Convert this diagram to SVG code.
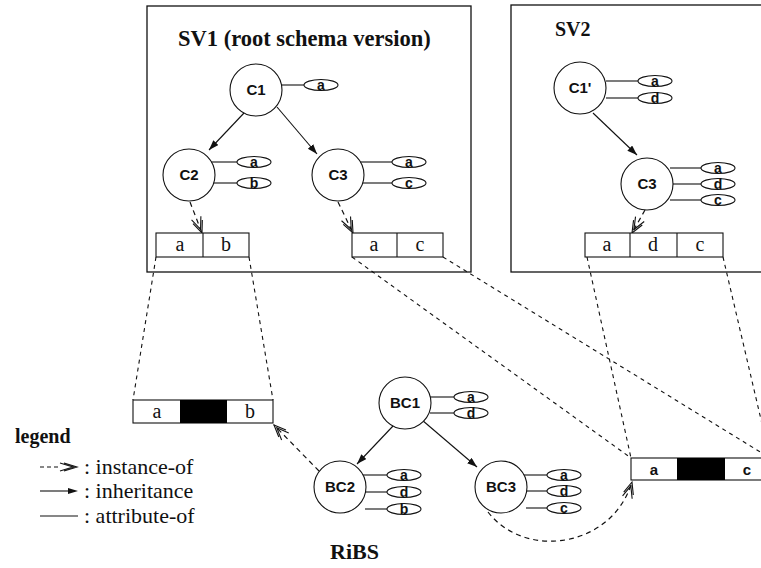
<svg xmlns="http://www.w3.org/2000/svg" width="761" height="568" viewBox="0 0 761 568">
  <style>
    .frame { fill: none; stroke: #111; stroke-width: 1.3; }
    .cls { fill: #fff; stroke: #111; stroke-width: 1.1; }
    .cls-label { font-family: "Liberation Sans", Arial, sans-serif; font-weight: bold; font-size: 15px; text-anchor: middle; fill: #111; }
    .attr-line { stroke: #111; stroke-width: 1.1; fill: none; }
    .attr-oval { fill: #fff; stroke: #111; stroke-width: 1.1; }
    .attr-label { font-family: "Liberation Sans", Arial, sans-serif; font-weight: bold; font-size: 14px; text-anchor: middle; fill: #111; }
    .title { font-family: "Liberation Serif", "Times New Roman", serif; font-weight: bold; fill: #111; }
    .rec { fill: #fff; stroke: #111; stroke-width: 1.1; }
    .rec-div { stroke: #111; stroke-width: 1.1; }
    .rec-serif { font-family: "Liberation Serif", "Times New Roman", serif; font-size: 20px; text-anchor: middle; fill: #111; }
    .rec-sans { font-family: "Liberation Sans", Arial, sans-serif; font-weight: bold; font-size: 15px; text-anchor: middle; fill: #111; }
    .inherit { stroke: #111; stroke-width: 1.1; fill: none; marker-end: url(#arrowInherit); }
    .instance { stroke: #111; stroke-width: 1.2; fill: none; stroke-dasharray: 5 4; marker-end: url(#arrowInstance); }
    .proj { stroke: #111; stroke-width: 1.1; fill: none; stroke-dasharray: 4 4; }
    .legend-text { font-family: "Liberation Serif", "Times New Roman", serif; font-size: 22px; fill: #111; }
  </style>
  <defs>
    <marker id="arrowInherit" markerUnits="userSpaceOnUse" markerWidth="12" markerHeight="8" refX="10" refY="3.5" orient="auto" viewBox="0 0 12 8">
      <path d="M0,0 L10,3.5 L0,7 z" fill="#111"/>
    </marker>
    <marker id="arrowInstance" markerUnits="userSpaceOnUse" markerWidth="16" markerHeight="12" refX="13" refY="5" orient="auto" viewBox="0 0 16 12" overflow="visible">
      <path d="M1,0 L13,5 L1,10 M-3,0 L9,5 L-3,10" fill="none" stroke="#111" stroke-width="1.1"/>
    </marker>
  </defs>

  <!-- schema version frames -->
  <g id="sv1-frame">
    <rect class="frame" x="147" y="6" width="324" height="266"/>
    <text class="title" x="178" y="46" font-size="22.5">SV1 (root schema version)</text>
  </g>
  <g id="sv2-frame">
    <rect class="frame" x="511" y="5" width="262" height="267"/>
    <text class="title" x="555" y="36" font-size="20">SV2</text>
  </g>

  <!-- connectors -->
  <g id="connectors">
    <!-- inheritance -->
    <line class="inherit" x1="244" y1="113" x2="209" y2="150"/>
    <line class="inherit" x1="277" y1="107" x2="317" y2="154"/>
    <line class="inherit" x1="593" y1="113" x2="637" y2="155"/>
    <line class="inherit" x1="393" y1="426" x2="357" y2="464"/>
    <line class="inherit" x1="422" y1="420" x2="477" y2="467"/>
    <!-- instance-of -->
    <line class="instance" x1="190" y1="202" x2="202" y2="233"/>
    <line class="instance" x1="338" y1="202" x2="353" y2="233"/>
    <line class="instance" x1="645" y1="210" x2="632" y2="233"/>
    <line class="instance" x1="319" y1="471" x2="274" y2="425"/>
    <path class="instance" d="M488,512 C525,560 612,548 632,482"/>
    <!-- projections of instance records onto base records -->
    <line class="proj" x1="156" y1="257" x2="133" y2="400"/>
    <line class="proj" x1="249" y1="257" x2="273" y2="400"/>
    <line class="proj" x1="352" y1="257" x2="631" y2="458"/>
    <line class="proj" x1="443" y1="257" x2="770" y2="458"/>
    <line class="proj" x1="587" y1="257" x2="631" y2="458"/>
    <line class="proj" x1="723" y1="257" x2="770" y2="458"/>
  </g>

  <!-- SV1 classes -->
  <g id="sv1-c1">
    <line class="attr-line" x1="281" y1="85" x2="304" y2="85"/>
    <ellipse class="attr-oval" cx="321" cy="85" rx="17" ry="5.5"/>
    <text class="attr-label" x="321" y="90">a</text>
    <circle class="cls" cx="256" cy="90" r="26"/>
    <text class="cls-label" x="256" y="95">C1</text>
  </g>
  <g id="sv1-c2">
    <line class="attr-line" x1="211" y1="162" x2="237" y2="162"/>
    <line class="attr-line" x1="211" y1="183" x2="237" y2="183"/>
    <ellipse class="attr-oval" cx="254" cy="162" rx="17" ry="5.5"/>
    <text class="attr-label" x="254" y="167">a</text>
    <ellipse class="attr-oval" cx="254" cy="183" rx="17" ry="5.5"/>
    <text class="attr-label" x="254" y="188">b</text>
    <circle class="cls" cx="189" cy="175" r="26"/>
    <text class="cls-label" x="189" y="180">C2</text>
  </g>
  <g id="sv1-c3">
    <line class="attr-line" x1="360" y1="162" x2="392" y2="162"/>
    <line class="attr-line" x1="360" y1="183" x2="392" y2="183"/>
    <ellipse class="attr-oval" cx="409" cy="162" rx="17" ry="5.5"/>
    <text class="attr-label" x="409" y="167">a</text>
    <ellipse class="attr-oval" cx="409" cy="183" rx="17" ry="5.5"/>
    <text class="attr-label" x="409" y="188">c</text>
    <circle class="cls" cx="338" cy="175" r="26"/>
    <text class="cls-label" x="338" y="180">C3</text>
  </g>
  <g id="sv1-rec-c2">
    <rect class="rec" x="156" y="233" width="93" height="24"/>
    <line class="rec-div" x1="203" y1="233" x2="203" y2="257"/>
    <text class="rec-serif" x="180" y="251">a</text>
    <text class="rec-serif" x="226" y="251">b</text>
  </g>
  <g id="sv1-rec-c3">
    <rect class="rec" x="352" y="233" width="91" height="24"/>
    <line class="rec-div" x1="397" y1="233" x2="397" y2="257"/>
    <text class="rec-serif" x="374" y="251">a</text>
    <text class="rec-serif" x="420" y="251">c</text>
  </g>

  <!-- SV2 classes -->
  <g id="sv2-c1p">
    <line class="attr-line" x1="606" y1="81" x2="638" y2="81"/>
    <line class="attr-line" x1="606" y1="98" x2="638" y2="98"/>
    <ellipse class="attr-oval" cx="655" cy="81" rx="17" ry="5.5"/>
    <text class="attr-label" x="655" y="86">a</text>
    <ellipse class="attr-oval" cx="655" cy="98" rx="17" ry="5.5"/>
    <text class="attr-label" x="655" y="103">d</text>
    <circle class="cls" cx="580" cy="88" r="26"/>
    <text class="cls-label" x="580" y="93">C1'</text>
  </g>
  <g id="sv2-c3">
    <line class="attr-line" x1="670" y1="168" x2="702" y2="168"/>
    <line class="attr-line" x1="673" y1="184" x2="702" y2="184"/>
    <line class="attr-line" x1="670" y1="200" x2="702" y2="200" stroke="#666" stroke-width="0.8"/>
    <ellipse class="attr-oval" cx="718" cy="168" rx="17" ry="5.5"/>
    <text class="attr-label" x="718" y="173">a</text>
    <ellipse class="attr-oval" cx="718" cy="184" rx="17" ry="5.5"/>
    <text class="attr-label" x="718" y="189">d</text>
    <ellipse class="attr-oval" cx="718" cy="200" rx="17" ry="5.5"/>
    <text class="attr-label" x="718" y="205">c</text>
    <circle class="cls" cx="647" cy="184" r="26"/>
    <text class="cls-label" x="647" y="189">C3</text>
  </g>
  <g id="sv2-rec-c3">
    <rect class="rec" x="585" y="233" width="138" height="24"/>
    <line class="rec-div" x1="630" y1="233" x2="630" y2="257"/>
    <line class="rec-div" x1="677" y1="233" x2="677" y2="257"/>
    <text class="rec-serif" x="607" y="251">a</text>
    <text class="rec-serif" x="653" y="251">d</text>
    <text class="rec-serif" x="700" y="251">c</text>
  </g>

  <!-- RiBS base classes -->
  <g id="ribs-bc1">
    <line class="attr-line" x1="430" y1="397" x2="454" y2="397" stroke="#555" stroke-width="0.8"/>
    <line class="attr-line" x1="430" y1="413" x2="454" y2="413"/>
    <ellipse class="attr-oval" cx="471" cy="397" rx="17" ry="5.5"/>
    <text class="attr-label" x="471" y="402">a</text>
    <ellipse class="attr-oval" cx="471" cy="413" rx="17" ry="5.5"/>
    <text class="attr-label" x="471" y="418">d</text>
    <circle class="cls" cx="405" cy="403" r="26"/>
    <text class="cls-label" x="405" y="408">BC1</text>
  </g>
  <g id="ribs-bc2">
    <line class="attr-line" x1="362" y1="475" x2="387" y2="475"/>
    <line class="attr-line" x1="365" y1="492" x2="387" y2="492"/>
    <line class="attr-line" x1="365" y1="509" x2="387" y2="509"/>
    <ellipse class="attr-oval" cx="404" cy="475" rx="17" ry="5.5"/>
    <text class="attr-label" x="404" y="480">a</text>
    <ellipse class="attr-oval" cx="404" cy="492" rx="17" ry="5.5"/>
    <text class="attr-label" x="404" y="497">d</text>
    <ellipse class="attr-oval" cx="404" cy="509" rx="17" ry="5.5"/>
    <text class="attr-label" x="404" y="514">b</text>
    <circle class="cls" cx="340" cy="487" r="26"/>
    <text class="cls-label" x="340" y="492">BC2</text>
  </g>
  <g id="ribs-bc3">
    <line class="attr-line" x1="523" y1="475" x2="547" y2="475"/>
    <line class="attr-line" x1="526" y1="491" x2="547" y2="491"/>
    <line class="attr-line" x1="526" y1="508" x2="547" y2="508"/>
    <ellipse class="attr-oval" cx="564" cy="475" rx="17" ry="5.5"/>
    <text class="attr-label" x="564" y="480">a</text>
    <ellipse class="attr-oval" cx="564" cy="491" rx="17" ry="5.5"/>
    <text class="attr-label" x="564" y="496">d</text>
    <ellipse class="attr-oval" cx="564" cy="508" rx="17" ry="5.5"/>
    <text class="attr-label" x="564" y="513">c</text>
    <circle class="cls" cx="501" cy="487" r="26"/>
    <text class="cls-label" x="501" y="492">BC3</text>
  </g>
  <g id="ribs-rec-left">
    <rect class="rec" x="133" y="400" width="140" height="23"/>
    <rect x="180" y="400" width="47" height="23" fill="#000"/>
    <text class="rec-serif" x="157" y="418">a</text>
    <text class="rec-serif" x="250" y="418">b</text>
  </g>
  <g id="ribs-rec-right">
    <rect class="rec" x="631" y="458" width="139" height="22"/>
    <rect x="677" y="458" width="48" height="22" fill="#000"/>
    <text class="rec-sans" x="654" y="475">a</text>
    <text class="rec-sans" x="747" y="475">c</text>
  </g>
  <g id="ribs-label">
    <text class="title" x="330" y="559" font-size="22">RiBS</text>
  </g>

  <!-- legend -->
  <g id="legend">
    <text class="title" x="15" y="443" font-size="20">legend</text>
    <line x1="40" y1="467" x2="58" y2="467" stroke="#111" stroke-width="1.1" stroke-dasharray="4 3"/>
    <path d="M60,463 L73,467 L60,471 M64,463 L77,467 L64,471" fill="none" stroke="#111" stroke-width="1.1"/>
    <text class="legend-text" x="84" y="474">: instance-of</text>
    <line x1="40" y1="491" x2="70" y2="491" stroke="#111" stroke-width="1.1"/>
    <path d="M68,488 L78,491 L68,494 z" fill="#111"/>
    <text class="legend-text" x="84" y="498">: inheritance</text>
    <line x1="40" y1="516" x2="78" y2="516" stroke="#111" stroke-width="1.1"/>
    <text class="legend-text" x="84" y="523">: attribute-of</text>
  </g>
</svg>
